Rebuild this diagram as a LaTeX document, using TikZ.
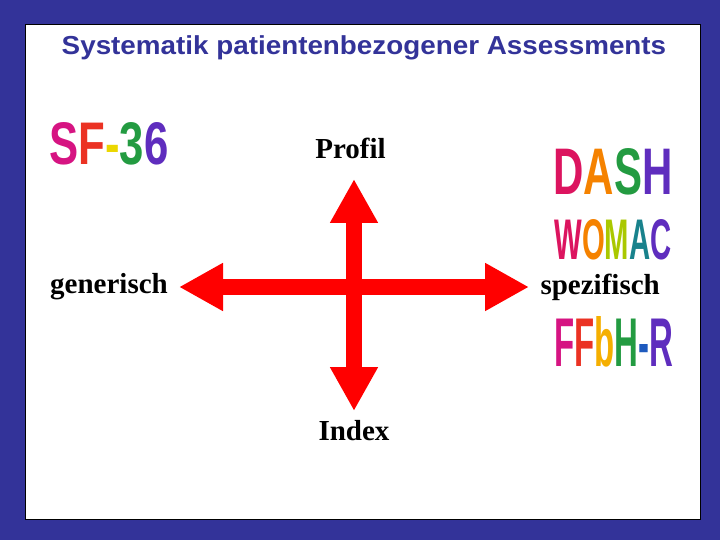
\documentclass[tikz,border=0pt]{standalone}
\usepackage{fontspec}
\setmainfont{Liberation Serif}
\setsansfont{Liberation Sans}
\usetikzlibrary{arrows.meta}
\definecolor{slideblue}{RGB}{51,51,153}
\definecolor{arrowred}{RGB}{255,0,0}
\definecolor{wmag}{RGB}{214,20,130}
\definecolor{wpink}{RGB}{220,20,95}
\definecolor{wred}{RGB}{235,50,35}
\definecolor{worange}{RGB}{245,130,0}
\definecolor{wamber}{RGB}{245,175,0}
\definecolor{wyellow}{RGB}{235,215,0}
\definecolor{wlime}{RGB}{170,200,0}
\definecolor{wgreen}{RGB}{35,155,65}
\definecolor{wteal}{RGB}{25,130,140}
\definecolor{wblue}{RGB}{30,90,190}
\definecolor{wviolet}{RGB}{95,45,190}
\newcommand\wabox[3]{\resizebox{#1}{#2}{\sffamily\bfseries #3}}
\newcommand\wc[2]{\textcolor{#1}{#2}}
\tikzset{
  crossarrow/.style={draw=arrowred, line width=15.5pt,
    {Triangle[length=44pt,width=45pt]}-{Triangle[length=44pt,width=45pt]}},
  axislabel/.style={inner sep=0pt, font=\fontsize{29}{34}\selectfont\bfseries},
  wordart/.style={inner sep=0pt}
}
\begin{document}
\begin{tikzpicture}[x=1pt,y=-1pt]
\useasboundingbox (0,0) rectangle (720,540);
\fill[slideblue] (0,0) rectangle (720,540);
\draw[fill=white, draw=black, line width=1pt] (25,25) rectangle (700,519);
\node[anchor=base, inner sep=0pt, text=slideblue] (title) at (364,55)
  {\scalebox{1.07}[1]{\sffamily\bfseries\fontsize{26}{30}\selectfont Systematik patientenbezogener Assessments}};
% arrows
\coordinate (hl) at (179,287);
\coordinate (hr) at (529,287);
\coordinate (vt) at (354,179);
\coordinate (vb) at (354,411);
\draw[crossarrow] (hl) -- (hr);
\draw[crossarrow] (vt) -- (vb);
% labels
\node[axislabel, anchor=base west] (gen) at (50,293) {generisch};
\node[axislabel, anchor=base east] (spez) at (660,294) {spezifisch};
\node[axislabel, anchor=base] (profil) at (350.5,159) {Profil};
\node[axislabel, anchor=base] (index) at (354,440) {Index};
% word art
\node[wordart] (sf) at (109,144) {\wabox{119pt}{42pt}{\wc{wmag}{S}\wc{wred}{F}\wc{wyellow}{-}\wc{wgreen}{3}\wc{wviolet}{6}}};
\node[wordart] (dash) at (613,172) {\wabox{119pt}{46pt}{\wc{wpink}{D}\wc{worange}{A}\wc{wgreen}{S}\wc{wviolet}{H}}};
\node[wordart] (womac) at (613,239.5) {\wabox{117pt}{40pt}{\wc{wpink}{W}\wc{worange}{O}\wc{wlime}{M}\wc{wteal}{A}\wc{wviolet}{C}}};
\node[wordart] (ffbh) at (614,342) {\wabox{119pt}{50pt}{\wc{wmag}{F}\wc{wred}{F}\wc{wamber}{b}\wc{wgreen}{H}\wc{wblue}{-}\wc{wviolet}{R}}};
\end{tikzpicture}
\end{document}
